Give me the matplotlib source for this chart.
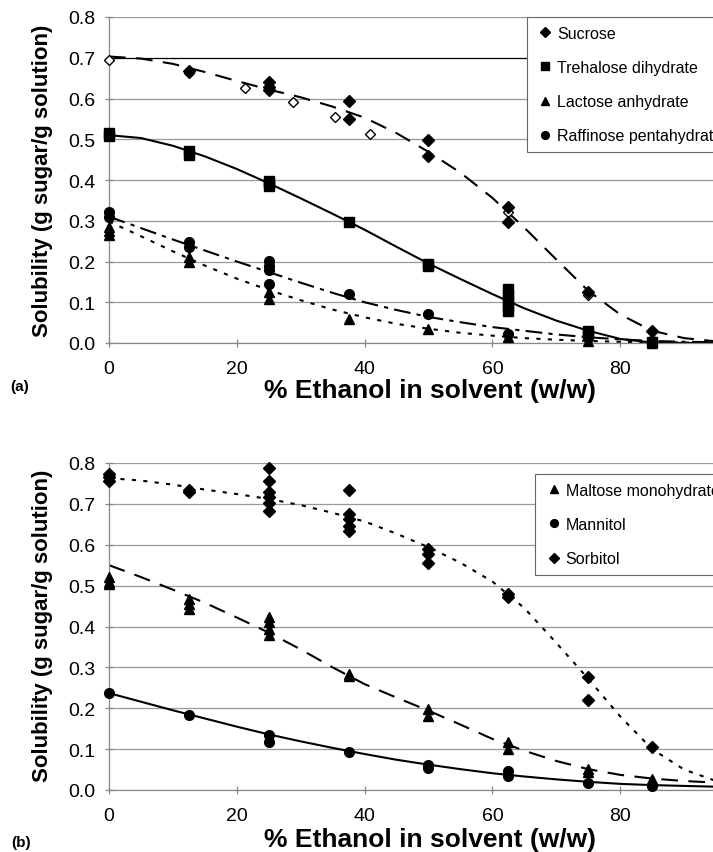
import matplotlib
matplotlib.use("Agg")
import matplotlib.pyplot as plt

plt.rcParams['font.family'] = ['Liberation Sans', 'DejaVu Sans']

# fitted curves, read every 5 % ethanol
curve_x = [0, 5, 10, 15, 20, 25, 30, 35, 40, 45, 50, 55, 60, 65, 70, 75, 80, 85, 90, 95, 100]

# ---- panel (a) ----
sucrose_fit = [0.703, 0.698, 0.685, 0.665, 0.643, 0.622, 0.603, 0.580, 0.553, 0.515, 0.469,
               0.418, 0.356, 0.283, 0.205, 0.128, 0.070, 0.030, 0.012, 0.004, 0.001]
trehalose_fit = [0.510, 0.503, 0.484, 0.458, 0.427, 0.392, 0.355, 0.317, 0.278, 0.236, 0.195,
                 0.157, 0.120, 0.085, 0.055, 0.030, 0.010, 0.001, 0.0, 0.0, 0.0]
lactose_fit = [0.298, 0.262, 0.225, 0.190, 0.158, 0.130, 0.105, 0.082, 0.063, 0.047, 0.035,
               0.025, 0.018, 0.012, 0.008, 0.005, 0.003, 0.002, 0.001, 0.001, 0.0]
raffinose_fit = [0.310, 0.282, 0.254, 0.227, 0.200, 0.174, 0.148, 0.123, 0.100, 0.081, 0.064,
                 0.051, 0.039, 0.030, 0.021, 0.014, 0.009, 0.005, 0.003, 0.002, 0.001]

sucrose_x = [12.5, 25, 25, 25, 37.5, 37.5, 50, 50, 62.5, 62.5, 75, 85]
sucrose_y = [0.668, 0.640, 0.628, 0.622, 0.595, 0.550, 0.497, 0.458, 0.333, 0.297, 0.125, 0.030]
sucrose_lit_x = [0, 12.5, 21.3, 28.8, 35.4, 40.8, 62.5, 75]
sucrose_lit_y = [0.695, 0.662, 0.626, 0.591, 0.554, 0.513, 0.322, 0.118]
trehalose_x = [0, 0, 12.5, 12.5, 25, 25, 25, 37.5, 50, 50, 62.5, 62.5, 62.5, 62.5, 62.5, 75, 75, 85]
trehalose_y = [0.515, 0.508, 0.472, 0.462, 0.398, 0.392, 0.386, 0.298, 0.193, 0.188,
               0.132, 0.118, 0.105, 0.090, 0.078, 0.030, 0.024, 0.003]
lactose_x = [0, 0, 0, 12.5, 12.5, 25, 25, 37.5, 50, 62.5, 75, 85]
lactose_y = [0.285, 0.275, 0.265, 0.210, 0.198, 0.125, 0.108, 0.059, 0.034, 0.014, 0.005, 0.001]
raffinose_x = [0, 0, 12.5, 12.5, 25, 25, 25, 25, 37.5, 50, 62.5, 75, 85]
raffinose_y = [0.322, 0.310, 0.247, 0.235, 0.201, 0.190, 0.178, 0.145, 0.120, 0.070, 0.022, 0.012, 0.004]

# ---- panel (b) ----
sorbitol_fit = [0.763, 0.757, 0.747, 0.735, 0.724, 0.712, 0.697, 0.678, 0.657, 0.627, 0.594,
                0.556, 0.510, 0.445, 0.360, 0.272, 0.180, 0.100, 0.050, 0.022, 0.010]
maltose_fit = [0.550, 0.521, 0.490, 0.458, 0.422, 0.385, 0.344, 0.300, 0.259, 0.226, 0.194,
               0.160, 0.125, 0.096, 0.071, 0.051, 0.037, 0.028, 0.022, 0.018, 0.015]
mannitol_fit = [0.237, 0.216, 0.195, 0.175, 0.155, 0.136, 0.119, 0.103, 0.088, 0.074, 0.062,
                0.051, 0.041, 0.033, 0.026, 0.020, 0.015, 0.012, 0.010, 0.008, 0.007]

sorbitol_x = [0, 0, 0, 12.5, 12.5, 25, 25, 25, 25, 25, 25, 37.5, 37.5, 37.5, 37.5, 37.5,
              50, 50, 50, 62.5, 62.5, 75, 75, 85]
sorbitol_y = [0.772, 0.765, 0.755, 0.735, 0.730, 0.787, 0.755, 0.728, 0.716, 0.703, 0.683,
              0.735, 0.675, 0.663, 0.646, 0.634, 0.590, 0.578, 0.555, 0.480, 0.473, 0.276, 0.219, 0.104]
maltose_x = [0, 0, 0, 12.5, 12.5, 12.5, 25, 25, 25, 25, 37.5, 37.5, 50, 50, 62.5, 62.5, 75, 75, 85, 85]
maltose_y = [0.520, 0.510, 0.503, 0.467, 0.455, 0.443, 0.423, 0.410, 0.395, 0.378, 0.285, 0.280,
             0.198, 0.182, 0.117, 0.100, 0.051, 0.045, 0.027, 0.020]
mannitol_x = [0, 12.5, 25, 25, 37.5, 50, 50, 62.5, 62.5, 75, 85]
mannitol_y = [0.237, 0.184, 0.135, 0.117, 0.094, 0.060, 0.055, 0.047, 0.035, 0.017, 0.010]

x_ticks = [0, 20, 40, 60, 80, 100]
x_tick_labels = ['0', '20', '40', '60', '80', '']
y_ticks = [0.0, 0.1, 0.2, 0.3, 0.4, 0.5, 0.6, 0.7, 0.8]

W, H = 713, 853
fig = plt.figure(figsize=(W / 100, H / 100), dpi=100)


def px_axes(left, top, right, bottom):
    return fig.add_axes([left / W, 1 - bottom / H, (right - left) / W, (bottom - top) / H])


def style_axes(ax):
    ax.set_xlim(0, 100)
    ax.set_ylim(0, 0.8)
    ax.set_xticks(x_ticks)
    ax.set_xticklabels(x_tick_labels)
    ax.set_yticks(y_ticks)
    ax.set_yticklabels([f"{v:.1f}" for v in y_ticks])
    for s in ['top', 'right']:
        ax.spines[s].set_visible(False)
    for s in ['left', 'bottom']:
        ax.spines[s].set_color('#888888')
        ax.spines[s].set_linewidth(0.9)
    ax.yaxis.grid(True, color='#999999', lw=0.9)
    ax.set_axisbelow(True)
    ax.tick_params(direction='inout', length=6, width=0.9, color='#888888', labelsize=14)
    ax.tick_params(axis='x', pad=9)
    ax.tick_params(axis='y', pad=7)


def add_legend(ax, anchor):
    leg = ax.legend(loc='upper left', bbox_to_anchor=anchor, borderaxespad=0, fontsize=11.5,
                    frameon=True, fancybox=False, edgecolor='#666666', framealpha=1,
                    handlelength=1.2, handletextpad=0.15, labelspacing=1.2, borderpad=0.55,
                    markerscale=0.8)
    leg.get_frame().set_linewidth(0.8)
    return leg


ms = dict(color='black', ls='none', clip_on=False, zorder=4)

# panel (a)
ax1 = px_axes(109, 18, 748, 344)
style_axes(ax1)
ax1.get_ygridlines()[7].set_color('black')
ax1.plot(curve_x, sucrose_fit, color='black', lw=1.5, ls=(0, (8, 5)))
ax1.plot(curve_x, trehalose_fit, color='black', lw=1.5, ls='-')
ax1.plot(curve_x, lactose_fit, color='black', lw=1.5, ls=(0, (2, 3.5)))
ax1.plot(curve_x, raffinose_fit, color='black', lw=1.5, ls=(0, (8, 3, 2, 3)))
ax1.plot(sucrose_lit_x, sucrose_lit_y, marker='D', ms=5.5, mfc='white', mec='black', mew=1, **ms)
ax1.plot(sucrose_x, sucrose_y, marker='D', ms=6, label='Sucrose', **ms)
ax1.plot(trehalose_x, trehalose_y, marker='s', ms=7.5, label='Trehalose dihydrate', **ms)
ax1.plot(lactose_x, lactose_y, marker='^', ms=7, label='Lactose anhydrate', **ms)
ax1.plot(raffinose_x, raffinose_y, marker='o', ms=7, label='Raffinose pentahydrate', **ms)
add_legend(ax1, (0.654, 1.0))

# panel (b)
ax2 = px_axes(109, 464, 748, 791)
style_axes(ax2)
ax2.plot(curve_x, sorbitol_fit, color='black', lw=1.5, ls=(0, (2, 3.5)))
ax2.plot(curve_x, maltose_fit, color='black', lw=1.5, ls=(0, (8, 5)))
ax2.plot(curve_x, mannitol_fit, color='black', lw=1.5, ls='-')
ax2.plot(maltose_x, maltose_y, marker='^', ms=7, label='Maltose monohydrate', **ms)
ax2.plot(mannitol_x, mannitol_y, marker='o', ms=7, label='Mannitol', **ms)
ax2.plot(sorbitol_x, sorbitol_y, marker='D', ms=6, label='Sorbitol', **ms)
add_legend(ax2, (0.667, 0.966))

# axis titles and panel tags
ylab = 'Solubility (g sugar/g solution)'
xlab = '% Ethanol in solvent (w/w)'
fig.text(43 / W, 1 - 181 / H, ylab, rotation=90, ha='center', va='center',
         fontsize=16, fontweight='bold')
fig.text(43 / W, 1 - 626 / H, ylab, rotation=90, ha='center', va='center',
         fontsize=16, fontweight='bold')
fig.text(430 / W, 1 - 391 / H, xlab, ha='center', va='center', fontsize=19, fontweight='bold')
fig.text(430 / W, 1 - 840 / H, xlab, ha='center', va='center', fontsize=19, fontweight='bold')
fig.text(20 / W, 1 - 387 / H, '(a)', ha='center', va='center', fontsize=11, fontweight='bold')
fig.text(21 / W, 1 - 843 / H, '(b)', ha='center', va='center', fontsize=11, fontweight='bold')

fig.savefig('out.png', dpi=100)
